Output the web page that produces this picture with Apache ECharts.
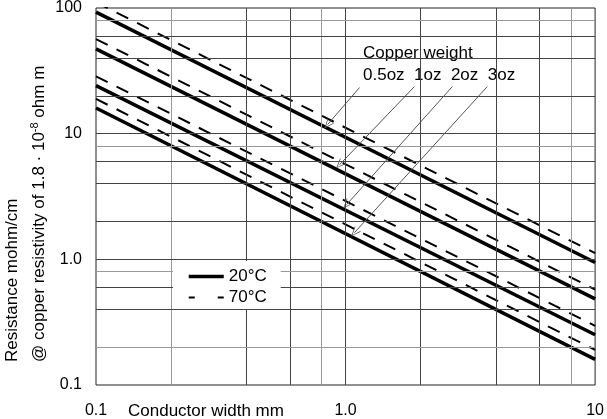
<!DOCTYPE html>
<html>
<head>
<meta charset="utf-8">
<script src="https://cdn.jsdelivr.net/npm/echarts@6/dist/echarts.min.js"></script>
<style>
html, body { margin: 0; padding: 0; background: #fff; }
#chart { width: 607px; height: 419px; }
</style>
</head>
<body>
<div id="chart"></div>
<script>
// conductor widths (mm) at both ends of each line
const widths = [0.1, 10]
const weights = ['0.5oz', '1oz', '2oz', '3oz']

// resistance mohm/cm at width 0.1 and 10
const r20 = [
  [92.7, 0.943],
  [47.3, 0.484],
  [24.1, 0.251],
  [16.0, 0.160]
]
const r70 = [
  [111, 1.12],
  [56.6, 0.575],
  [28.6, 0.296],
  [18.9, 0.19]
]

const xTickLabels = ['0.1', '1.0', '10']
const yTickLabels = ['0.1', '1.0', '10', '100']

// grid lines drawn in the original
const xGrid = [0.2, 0.4, 0.6, 0.8, 1, 2, 4, 6, 8]
const yGrid = [0.2, 0.4, 0.6, 0.8, 1, 2, 4, 6, 8, 10, 20, 40, 60, 80]
const lightGrid = [0.2, 0.8, 8, 80]

// arrows from the weight labels to the lines
const arrowFrom = [[1.138, 23.3], [1.888, 23.7], [2.679, 23.7], [3.698, 23.7]]
const arrowTo = [[0.847, 11.8], [0.946, 5.66], [1.009, 2.72], [1.086, 1.63]]

const FONT = '"Liberation Sans", Arial, sans-serif'

const chart = echarts.init(document.getElementById('chart'))

function pairs(vals) {
  return widths.map((w, i) => [w, vals[i]])
}

const series = []

// grid lines as marklines on a hidden helper series
series.push({
  name: 'grid',
  type: 'line',
  data: [[0.1, 0.1]],
  symbol: 'none',
  silent: true,
  z: 1,
  lineStyle: { opacity: 0 },
  markLine: {
    silent: true,
    symbol: 'none',
    label: { show: false },
    animation: false,
    data: [
      ...xGrid.map(v => ({ xAxis: v, lineStyle: { color: lightGrid.includes(v) ? '#999' : '#444', width: 1, type: 'solid' } })),
      ...yGrid.map(v => ({ yAxis: v, lineStyle: { color: lightGrid.includes(v) ? '#999' : '#444', width: 1, type: 'solid' } }))
    ]
  }
})

r20.forEach(v => {
  series.push({
    name: '20°C',
    type: 'line',
    data: pairs(v),
    symbol: 'none',
    clip: true,
    z: 3,
    itemStyle: { color: '#000' },
    lineStyle: { color: '#000', width: 3.5, type: 'solid' }
  })
})

r70.forEach(v => {
  series.push({
    name: '70°C',
    type: 'line',
    data: pairs(v),
    symbol: 'none',
    clip: true,
    z: 3,
    itemStyle: { color: '#000' },
    lineStyle: { color: '#000', width: 2, type: [13, 10] }
  })
})

// annotation arrows
series.push({
  name: 'arrows',
  type: 'line',
  data: [],
  symbol: 'none',
  silent: true,
  z: 4,
  markLine: {
    silent: true,
    symbol: ['none', 'path://M0,10 L5,0 L10,10 L9,10 L5,2 L1,10 Z'],
    symbolSize: [8, 10],
    label: { show: false },
    animation: false,
    lineStyle: { color: '#555', width: 1, type: 'solid' },
    data: arrowFrom.map((p, i) => [{ coord: p }, { coord: arrowTo[i] }])
  }
})

chart.setOption({
  animation: false,
  textStyle: { fontFamily: FONT },
  grid: {
    left: 96,
    right: 11,
    top: 8,
    bottom: 34,
    show: true,
    borderColor: '#222',
    borderWidth: 1,
    backgroundColor: '#fff'
  },
  legend: {
    data: [
      { name: '20°C', lineStyle: { color: '#000', width: 3.5, type: 'solid' } },
      { name: '70°C', lineStyle: { color: '#000', width: 2, type: [6, 23] } }
    ],
    orient: 'vertical',
    left: 173,
    top: 261,
    backgroundColor: '#fff',
    padding: [7, 14, 3, 14],
    itemWidth: 35,
    itemHeight: 14,
    itemGap: 4,
    itemStyle: { opacity: 0 },
    textStyle: { fontSize: 17, color: '#000', fontFamily: FONT },
    z: 10
  },
  xAxis: {
    type: 'log',
    logBase: 10,
    min: 0.1,
    max: 10,
    axisLine: { show: false },
    axisTick: { show: false },
    splitLine: { show: false },
    axisLabel: {
      fontSize: 16,
      color: '#000',
      margin: 18,
      formatter: (v, i) => xTickLabels[i]
    }
  },
  yAxis: {
    type: 'log',
    logBase: 10,
    min: 0.1,
    max: 100,
    axisLine: { show: false },
    axisTick: { show: false },
    splitLine: { show: false },
    axisLabel: {
      fontSize: 16,
      color: '#000',
      margin: 14,
      formatter: (v, i) => yTickLabels[i]
    }
  },
  graphic: [
    {
      type: 'group',
      z: 100,
      children: [
        { type: 'rect', shape: { x: 347, y: 38, width: 190, height: 57 }, style: { fill: '#fff' } },
        { type: 'text', x: 363, y: 53, style: { text: 'Copper weight', fontSize: 17, fontFamily: FONT, fill: '#000', verticalAlign: 'middle' } },
        { type: 'text', x: 363, y: 75, style: { text: weights.join('  '), fontSize: 17, fontFamily: FONT, fill: '#000', verticalAlign: 'middle' } }
      ]
    },
    {
      type: 'text',
      x: 128,
      y: 411,
      style: { text: 'Conductor width mm', fontSize: 17, fontFamily: FONT, fill: '#000', verticalAlign: 'middle' }
    },
    {
      type: 'text',
      x: 12,
      y: 362,
      rotation: Math.PI / 2,
      style: { text: 'Resistance mohm/cm', fontSize: 17, fontFamily: FONT, fill: '#000', align: 'left', verticalAlign: 'middle' }
    },
    {
      type: 'text',
      x: 39,
      y: 362,
      rotation: Math.PI / 2,
      style: {
        text: '{a|@ copper resistivity of 1.8 · 10}{s|-8}{a| ohm m}',
        fontFamily: FONT,
        fill: '#000',
        align: 'left',
        verticalAlign: 'middle',
        rich: {
          a: { fontSize: 17, fontFamily: FONT, lineHeight: 20 },
          s: { fontSize: 11, fontFamily: FONT, verticalAlign: 'top', lineHeight: 20 }
        }
      }
    }
  ],
  series: series
})
</script>
</body>
</html>
